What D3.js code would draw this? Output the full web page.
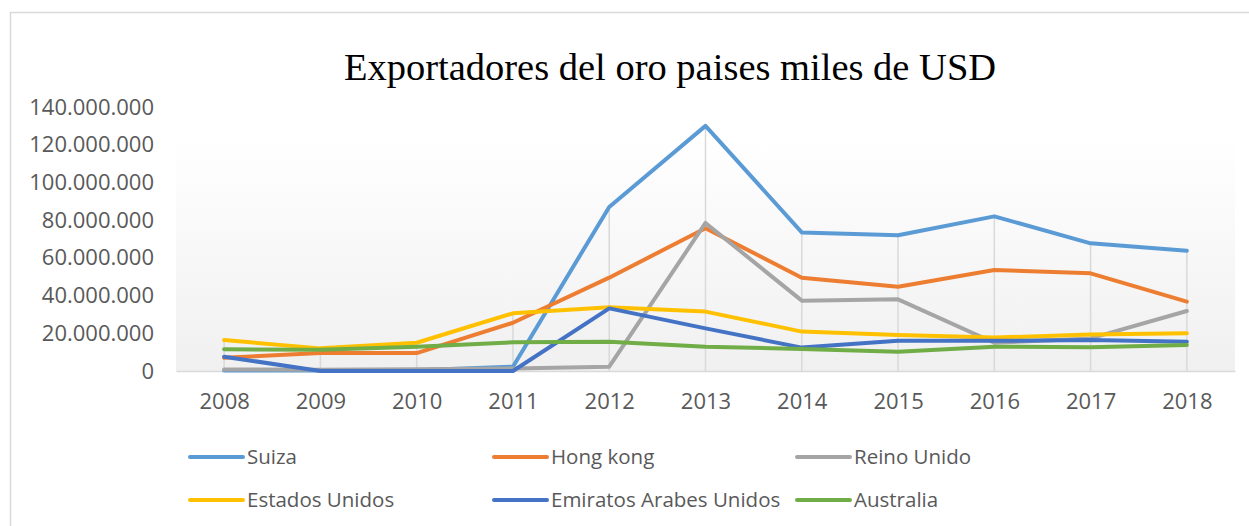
<!DOCTYPE html>
<html>
<head>
<meta charset="utf-8">
<script src="https://cdn.jsdelivr.net/npm/d3@7"></script>
<style>
  body { margin: 0; background: #fff; }
  svg { display: block; }
</style>
</head>
<body>
<script>
'use strict';

// data (values in miles de USD)
const years = ["2008", "2009", "2010", "2011", "2012", "2013", "2014", "2015", "2016", "2017", "2018"];
const seriesNames = ["Suiza", "Hong kong", "Reino Unido", "Estados Unidos", "Emiratos Arabes Unidos", "Australia"];
const seriesColors = ["#5B9BD5", "#ED7D31", "#A5A5A5", "#FFC000", "#4472C4", "#70AD47"];
const suiza = [300000, 200000, 400000, 2300000, 87000000, 130000000, 73500000, 72000000, 82000000, 67700000, 63800000];
const hongKong = [7000000, 9600000, 9500000, 25600000, 49500000, 75700000, 49500000, 44700000, 53600000, 51800000, 36800000];
const reinoUnido = [800000, 600000, 900000, 1300000, 2300000, 78500000, 37300000, 38000000, 15000000, 17300000, 31800000];
const estadosUnidos = [16400000, 12000000, 15000000, 30600000, 33800000, 31500000, 20900000, 19100000, 17700000, 19400000, 20000000];
const emiratos = [7600000, 0, 0, 0, 33200000, 22600000, 12400000, 16000000, 16000000, 16400000, 15500000];
const australia = [11500000, 11300000, 12900000, 15200000, 15500000, 12900000, 11700000, 10200000, 12900000, 12600000, 13800000];
const yTicks = [0, 20000000, 40000000, 60000000, 80000000, 100000000, 120000000, 140000000];

const allSeries = [suiza, hongKong, reinoUnido, estadosUnidos, emiratos, australia];

const width = 1249, height = 526;
const plot = {left: 176, right: 1235, top: 137, bottom: 371};

const svg = d3.select('body')
  .append('svg')
  .attr('width', width)
  .attr('height', height);

// chart border
svg.append('rect')
  .attr('x', 10.5).attr('y', 12.5)
  .attr('width', width + 20).attr('height', height + 20)
  .attr('fill', '#fff')
  .attr('stroke', '#d9d9d9')
  .attr('stroke-width', 1.5);

// plot background gradient
const grad = svg.append('defs').append('linearGradient')
  .attr('id', 'plotbg')
  .attr('x1', 0).attr('y1', 0).attr('x2', 0).attr('y2', 1);
grad.append('stop').attr('offset', '0%').attr('stop-color', '#ffffff');
grad.append('stop').attr('offset', '100%').attr('stop-color', '#f0f0f0');

svg.append('rect')
  .attr('x', plot.left).attr('y', plot.top)
  .attr('width', plot.right - plot.left)
  .attr('height', plot.bottom - plot.top)
  .attr('fill', 'url(#plotbg)');

const x = d3.scalePoint()
  .domain(years)
  .range([plot.left, plot.right])
  .padding(0.5);

const y = d3.scaleLinear()
  .domain([0, 140000000])
  .range([plot.bottom, 107]);

const locale = d3.formatLocale({decimal: ",", thousands: ".", grouping: [3], currency: ["", ""]});
const fmt = locale.format(",d");

// title
svg.append('text')
  .attr('x', 670)
  .attr('y', 80)
  .attr('text-anchor', 'middle')
  .style('font-family', '"Liberation Serif", "Times New Roman", serif')
  .style('font-size', '38.5px')
  .attr('fill', '#000')
  .text('Exportadores del oro paises miles de USD');

// y axis labels only
const yAxis = svg.append('g')
  .attr('transform', 'translate(162,0)')
  .call(d3.axisLeft(y).tickValues(yTicks).tickFormat(fmt).tickSize(0).tickPadding(8));
yAxis.select('.domain').remove();
yAxis.selectAll('text')
  .style('font-family', '"Open Sans", sans-serif')
  .style('font-size', '22px')
  .attr('fill', '#595959');

// drop lines from the highest value at each year
svg.append('g')
  .selectAll('line')
  .data(years)
  .enter()
  .append('line')
  .attr('x1', d => x(d)).attr('x2', d => x(d))
  .attr('y1', (d, i) => y(d3.max(allSeries, s => s[i])))
  .attr('y2', plot.bottom)
  .attr('stroke', '#d9d9d9')
  .attr('stroke-width', 1.5);

// x axis
const xAxis = svg.append('g')
  .attr('transform', 'translate(0,' + plot.bottom + ')')
  .call(d3.axisBottom(x).tickSize(0).tickPadding(22));
xAxis.select('.domain')
  .attr('stroke', '#d9d9d9')
  .attr('stroke-width', 1.5);
xAxis.selectAll('text')
  .style('font-family', '"Open Sans", sans-serif')
  .style('font-size', '22px')
  .attr('fill', '#595959');

// lines
const line = d3.line()
  .x((d, i) => x(years[i]))
  .y(d => y(d));

svg.append('g')
  .selectAll('path')
  .data(allSeries)
  .enter()
  .append('path')
  .attr('d', line)
  .attr('fill', 'none')
  .attr('stroke', (d, i) => seriesColors[i])
  .attr('stroke-width', 4)
  .attr('stroke-linejoin', 'round')
  .attr('stroke-linecap', 'round');

// legend, 3 columns x 2 rows
const legendX = [190, 494, 797];
const legendY = [457, 500];
const legend = svg.append('g')
  .selectAll('g')
  .data(seriesNames)
  .enter()
  .append('g')
  .attr('transform', (d, i) => 'translate(' + legendX[i % 3] + ',' + legendY[Math.floor(i / 3)] + ')');

legend.append('line')
  .attr('x1', 0).attr('x2', 53)
  .attr('y1', 0).attr('y2', 0)
  .attr('stroke', (d, i) => seriesColors[i])
  .attr('stroke-width', 4)
  .attr('stroke-linecap', 'round');

legend.append('text')
  .attr('x', 57)
  .attr('y', 0)
  .attr('dy', '0.35em')
  .style('font-family', '"Open Sans", sans-serif')
  .style('font-size', '20.5px')
  .attr('fill', '#595959')
  .text(d => d);
</script>
</body>
</html>
